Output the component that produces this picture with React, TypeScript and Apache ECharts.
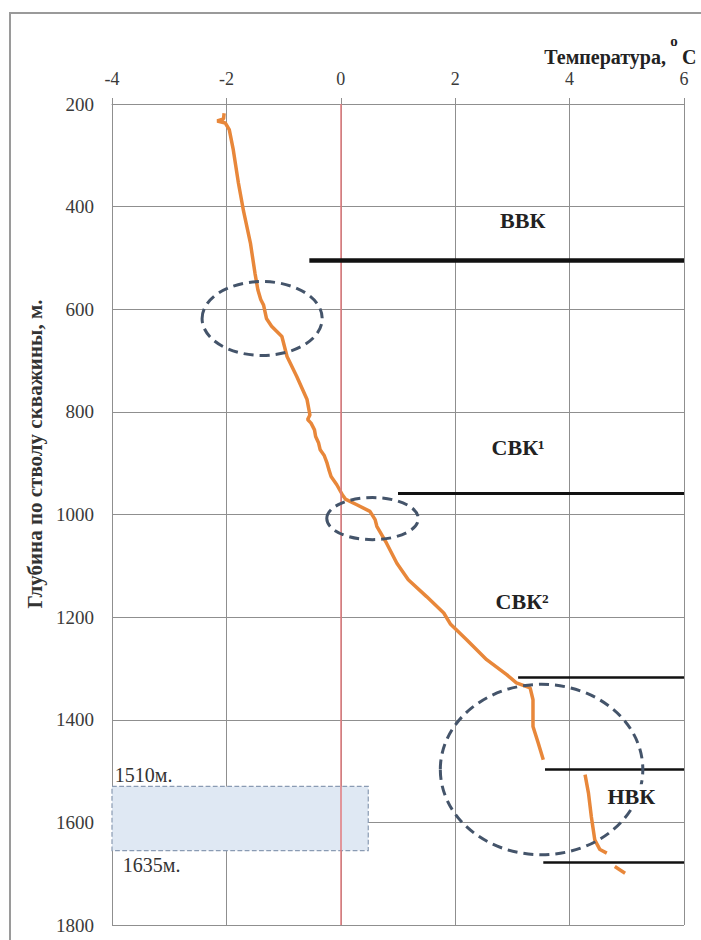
import React, { useEffect, useRef } from "react";
import * as echarts from "echarts";

// Axis ticks
const tempTicks = [-4, -2, 0, 2, 4, 6];
const depthTicks = [200, 400, 600, 800, 1000, 1200, 1400, 1600, 1800];

// Temperature profile: [temperature °C, depth m]
const profileUpper: [number, number][] = [
  [-2.04, 218], [-2.05, 229], [-2.16, 233], [-2.02, 237], [-1.95, 250],
  [-1.88, 289], [-1.79, 354], [-1.70, 409], [-1.58, 471], [-1.50, 530],
  [-1.45, 562], [-1.40, 581], [-1.35, 592], [-1.30, 618], [-1.21, 633],
  [-1.03, 653], [-0.94, 692], [-0.77, 731], [-0.59, 776], [-0.54, 806],
  [-0.58, 815], [-0.52, 822], [-0.46, 835], [-0.44, 848], [-0.39, 860],
  [-0.36, 874], [-0.29, 885], [-0.24, 900], [-0.21, 912], [-0.17, 926],
  [-0.07, 942], [0.03, 962], [0.08, 970], [0.28, 981], [0.51, 994],
  [0.60, 1010], [0.63, 1023], [0.80, 1056], [0.98, 1095], [1.18, 1127],
  [1.50, 1160], [1.80, 1192], [1.92, 1214], [2.20, 1244], [2.55, 1283],
  [2.90, 1312], [3.07, 1328], [3.31, 1338], [3.36, 1361], [3.36, 1413],
  [3.45, 1445], [3.54, 1478],
];
const profileMiddle: [number, number][] = [
  [4.27, 1507], [4.33, 1543], [4.38, 1589], [4.44, 1634], [4.53, 1653], [4.65, 1660],
];
const profileLower: [number, number][] = [
  [4.79, 1686], [4.97, 1699],
];

// Complex boundaries: depth, start temperature, end temperature, line width
const boundaryDepths = [505, 958, 1318, 1496, 1678];
const boundaryStarts = [-0.55, 1.0, 3.1, 3.57, 3.54];
const boundaryEnd = 6;
const boundaryWidths = [4.5, 3, 2.5, 2.5, 2.5];

// Zone labels
const zoneNames = ["ВВК", "СВК¹", "СВК²", "НВК"];
const zoneTemps = [3.18, 3.1, 3.17, 5.08];
const zoneDepths = [427, 869, 1169, 1549];

// Anomaly ellipses: centre (temp, depth), radius (temp, depth)
const anomalyTemps = [-1.375, 0.555, 3.51];
const anomalyDepths = [618, 1008, 1497];
const anomalyRadT = [1.05, 0.8, 1.77];
const anomalyRadD = [72, 41, 166];

// Interval (shaded)
const intervalTop = 1530;
const intervalBottom = 1655;
const intervalFrom = -4;
const intervalTo = 0.48;
const intervalLabels = ["1510м.", "1635м."];
const intervalLabelTemps = [-3.95, -3.81];
const intervalLabelDepths = [1507, 1683];

const SERIF = "Liberation Serif";
const GRID = "#8f8f8f";

export default function App() {
  const ref = useRef<HTMLDivElement>(null);

  useEffect(() => {
    if (!ref.current) return;
    const chart = echarts.init(ref.current, null, { renderer: "svg" });

    const profileStyle = { color: "#E8873A", width: 3.5 };
    const axisCommon = {
      axisLine: { show: true, lineStyle: { color: GRID, width: 1 } },
      axisTick: { show: true, inside: false, length: 6, lineStyle: { color: GRID } },
      splitLine: { show: true, lineStyle: { color: GRID, width: 1 } },
    };

    chart.setOption({
      animation: false,
      backgroundColor: "#ffffff",
      textStyle: { fontFamily: SERIF },
      grid: { left: 112, top: 104, width: 572, height: 821, containLabel: false },
      xAxis: {
        type: "value",
        position: "top",
        min: tempTicks[0],
        max: tempTicks[tempTicks.length - 1],
        interval: 2,
        ...axisCommon,
        axisLabel: {
          color: "#3a3a3a",
          fontSize: 18,
          fontFamily: SERIF,
          margin: 16,
          formatter: (v: number) => String(v),
        },
      },
      yAxis: {
        type: "value",
        inverse: true,
        min: depthTicks[0],
        max: depthTicks[depthTicks.length - 1],
        interval: 200,
        ...axisCommon,
        axisLabel: {
          color: "#3a3a3a",
          fontSize: 19,
          fontFamily: SERIF,
          margin: 18,
          formatter: (v: number) => String(v),
        },
      },
      series: [
        {
          type: "line",
          name: "marks",
          data: [],
          z: 1,
          markLine: {
            silent: true,
            symbol: "none",
            label: { show: false },
            lineStyle: { color: "#E27A7C", width: 1.5, type: "solid" },
            data: [{ xAxis: 0 }],
          },
          markArea: {
            silent: true,
            itemStyle: {
              color: "#dfe8f3",
              borderColor: "#8a9bb3",
              borderWidth: 1.2,
              borderType: "dashed",
            },
            data: [[
              { coord: [intervalFrom, intervalTop] },
              { coord: [intervalTo, intervalBottom] },
            ]],
          },
        },
        { type: "line", data: profileUpper, symbol: "none", lineStyle: profileStyle, z: 3 },
        { type: "line", data: profileMiddle, symbol: "none", lineStyle: profileStyle, z: 3 },
        { type: "line", data: profileLower, symbol: "none", lineStyle: profileStyle, z: 3 },
        {
          type: "line",
          data: [],
          z: 5,
          markLine: {
            silent: true,
            symbol: "none",
            label: { show: false },
            data: boundaryDepths.map((d, i) => [
              { coord: [boundaryStarts[i], d], lineStyle: { color: "#111", width: boundaryWidths[i], type: "solid" } },
              { coord: [boundaryEnd, d] },
            ]),
          },
        },
      ],
    });

    const px = (t: number, d: number) =>
      chart.convertToPixel({ gridIndex: 0 } as any, [t, d]) as number[];

    const graphics: any[] = [];
    graphics.push({
      type: "rect",
      silent: true,
      shape: { x: 10, y: 13, width: 900, height: 1100 },
      style: { fill: "none", stroke: "#9a9a9a", lineWidth: 2 },
      z: 0,
    });

    anomalyTemps.forEach((t, i) => {
      const c = px(t, anomalyDepths[i]);
      const e = px(t + anomalyRadT[i], anomalyDepths[i] + anomalyRadD[i]);
      graphics.push({
        type: "ellipse",
        silent: true,
        shape: { cx: c[0], cy: c[1], rx: Math.abs(e[0] - c[0]), ry: Math.abs(e[1] - c[1]) },
        style: { fill: "none", stroke: "#44546A", lineWidth: 3, lineDash: [10, 6] },
        z: 10,
      });
    });

    zoneNames.forEach((n, i) => {
      const p = px(zoneTemps[i], zoneDepths[i]);
      graphics.push({
        type: "text",
        silent: true,
        x: p[0],
        y: p[1],
        style: {
          text: n,
          fill: "#222",
          fontFamily: SERIF,
          fontWeight: "bold",
          fontSize: 22,
          align: "center",
          verticalAlign: "middle",
          backgroundColor: "#ffffff",
          padding: [1, 5],
        },
        z: 20,
      });
    });

    intervalLabels.forEach((n, i) => {
      const p = px(intervalLabelTemps[i], intervalLabelDepths[i]);
      graphics.push({
        type: "text",
        silent: true,
        x: p[0],
        y: p[1],
        style: {
          text: n,
          fill: "#333",
          fontFamily: SERIF,
          fontSize: 20,
          align: "left",
          verticalAlign: "middle",
        },
        z: 20,
      });
    });

    // axis titles
    const titleStyle = { fill: "#222", fontFamily: SERIF, fontWeight: "bold", verticalAlign: "middle" };
    graphics.push({
      type: "text",
      silent: true,
      x: 666,
      y: 57,
      style: { ...titleStyle, text: "Температура,", fontSize: 20, align: "right" },
      z: 20,
    });
    graphics.push({
      type: "text",
      silent: true,
      x: 674,
      y: 41,
      style: { ...titleStyle, text: "o", fontSize: 15, align: "center" },
      z: 20,
    });
    graphics.push({
      type: "text",
      silent: true,
      x: 682,
      y: 57,
      style: { ...titleStyle, text: "C", fontSize: 20, align: "left" },
      z: 20,
    });
    graphics.push({
      type: "text",
      silent: true,
      x: 35,
      y: 454,
      rotation: Math.PI / 2,
      style: {
        ...titleStyle,
        fill: "#333",
        text: "Глубина по стволу скважины, м.",
        fontSize: 21,
        align: "center",
      },
      z: 20,
    });

    chart.setOption({ graphic: graphics });

    return () => chart.dispose();
  }, []);

  return (
    <div
      ref={ref}
      style={{ position: "fixed", left: 0, top: 0, width: 701, height: 940, background: "#fff" }}
    />
  );
}
